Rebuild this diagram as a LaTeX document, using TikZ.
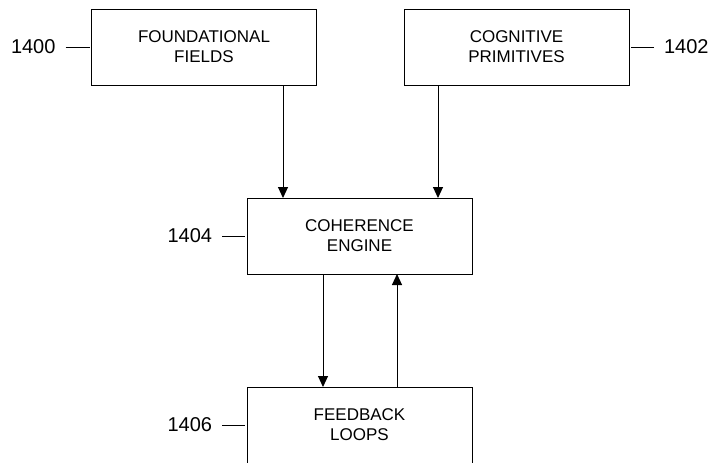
\documentclass[tikz,border=0pt]{standalone}
\usepackage{fontspec}
\setmainfont{Liberation Sans}
\usepackage{tikz}
\usetikzlibrary{arrows.meta,positioning}

\begin{document}
\begin{tikzpicture}[x=1pt, y=-1pt,
  block/.style={draw, line width=1pt, outer sep=0pt, minimum width=225pt, minimum height=76pt, align=center, font=\fontsize{17}{20}\selectfont},
  refnum/.style={font=\fontsize{20}{24}\selectfont, inner xsep=10pt, inner ysep=0pt, outer sep=0pt},
  lead/.style={line width=1pt, shorten >=2pt},
  flow/.style={-{Triangle[length=11pt, width=10pt]}, line width=1pt}]
\useasboundingbox (0,0) rectangle (714,463);
\clip (0,0) rectangle (714,462);
\node[block] (fields) at (204,47) {FOUNDATIONAL\\FIELDS};
\node[block] (prims) at (516.5,47) {COGNITIVE\\PRIMITIVES};
\node[block] (engine) at (359.5,236) {COHERENCE\\ENGINE};
\node[block] (loops) at (359.5,425) {FEEDBACK\\LOOPS};
% reference numerals
\node[refnum, left=26pt of fields] (n1400) {1400};
\node[refnum, right=25pt of prims] (n1402) {1402};
\node[refnum, left=25pt of engine] (n1404) {1404};
\node[refnum, left=25pt of loops] (n1406) {1406};
\draw[lead] (n1400) -- (fields);
\draw[lead] (n1402) -- (prims);
\draw[lead] (n1404) -- (engine);
\draw[lead] (n1406) -- (loops);
% connectors
\draw[flow] ([xshift=-76.5pt]engine.north |- fields.south) -- ([xshift=-76.5pt]engine.north);
\draw[flow] ([xshift=78.5pt]engine.north |- prims.south) -- ([xshift=78.5pt]engine.north);
\draw[flow] ([xshift=-36.5pt]engine.south) -- ([xshift=-36.5pt]loops.north);
\draw[flow] ([xshift=37.5pt]loops.north) -- ([xshift=37.5pt]engine.south);
\end{tikzpicture}
\end{document}
